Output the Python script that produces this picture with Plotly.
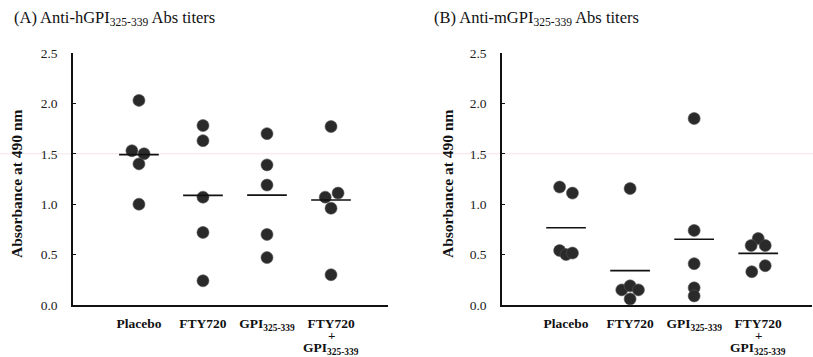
import plotly.graph_objects as go
import numpy as np

# ---------------- data ----------------
groups = ["Placebo", "FTY720", "GPI<sub>325-339</sub>", "FTY720"]
group_pos = [1, 2, 3, 4]

# Panel A: Anti-hGPI325-339 Abs titers
a_placebo = [2.03, 1.53, 1.50, 1.40, 1.00]
a_fty = [1.78, 1.63, 1.07, 0.72, 0.24]
a_gpi = [1.70, 1.39, 1.19, 0.70, 0.47]
a_combo = [1.77, 1.11, 1.07, 0.96, 0.30]
a_jitter = [[0, -0.11, 0.08, 0, 0],
            [0, 0, 0, 0, 0],
            [0, 0, 0, 0, 0],
            [0, 0.11, -0.09, 0, 0]]

# Panel B: Anti-mGPI325-339 Abs titers
b_placebo = [1.17, 1.11, 0.54, 0.50, 0.515]
b_fty = [1.155, 0.15, 0.19, 0.15, 0.06]
b_gpi = [1.85, 0.74, 0.41, 0.17, 0.09]
b_combo = [0.66, 0.59, 0.59, 0.33, 0.39]
b_jitter = [[-0.10, 0.10, -0.10, 0, 0.10],
            [0, -0.13, 0, 0.13, 0],
            [0, 0, 0, 0, 0],
            [0, -0.11, 0.11, -0.10, 0.11]]

y_ticks = [0.0, 0.5, 1.0, 1.5, 2.0, 2.5]

# ---------------- style ----------------
FONT = "Liberation Serif"
DOT = "#2a2a2a"
W, H = 813, 357
half = 0.31

fig = go.Figure()

def add_panel(series, jitter, xa, ya):
    for pos, vals, jit in zip(group_pos, series, jitter):
        fig.add_trace(go.Scatter(
            x=[pos + j for j in jit], y=vals, mode="markers",
            marker=dict(size=12, color=DOT, line=dict(width=0.6, color="#555")),
            xaxis=xa, yaxis=ya, showlegend=False, hoverinfo="y"))
        m = float(np.mean(vals))
        fig.add_trace(go.Scatter(
            x=[pos - half, pos + half], y=[m, m], mode="lines",
            line=dict(color="#111", width=1.6),
            xaxis=xa, yaxis=ya, showlegend=False, hoverinfo="skip"))

add_panel([a_placebo, a_fty, a_gpi, a_combo], a_jitter, "x", "y")
add_panel([b_placebo, b_fty, b_gpi, b_combo], b_jitter, "x2", "y2")

xcommon = dict(showline=True, linecolor="#111", linewidth=1.5, ticks="",
               showgrid=False, zeroline=False, tickvals=group_pos, ticktext=groups,
               tickfont=dict(family=FONT, size=13.5, color="#111", weight="bold"),
               ticklabelstandoff=5, fixedrange=True)
ycommon = dict(showline=True, linecolor="#111", linewidth=1.5, ticks="inside",
               ticklen=3, tickcolor="#111", showgrid=False, zeroline=False,
               range=[0, 2.5], tickvals=y_ticks,
               ticktext=[f"{v:.1f}" for v in y_ticks],
               tickfont=dict(family=FONT, size=13.5, color="#222"),
               ticklabelstandoff=11, fixedrange=True)

fig.update_layout(
    width=W, height=H,
    margin=dict(l=0, r=0, t=53, b=52),
    paper_bgcolor="white", plot_bgcolor="white",
    xaxis=dict(xcommon, domain=[73 / W, 388 / W], range=[-0.03, 4.89], anchor="y"),
    yaxis=dict(ycommon, anchor="x"),
    xaxis2=dict(xcommon, domain=[502 / W, 812 / W], range=[0.0, 4.84], anchor="y2"),
    yaxis2=dict(ycommon, anchor="x2"),
)

ann = []
# panel titles
ann.append(dict(text="(A) Anti-hGPI<sub>325-339</sub> Abs titers", xref="paper", yref="paper",
                x=12 / W, y=1 + 35 / 252, xanchor="left", yanchor="middle", showarrow=False,
                font=dict(family=FONT, size=16.5, color="#111")))
ann.append(dict(text="(B) Anti-mGPI<sub>325-339</sub> Abs titers", xref="paper", yref="paper",
                x=432 / W, y=1 + 35 / 252, xanchor="left", yanchor="middle", showarrow=False,
                font=dict(family=FONT, size=16.5, color="#111")))
# y titles
for xpix in (16, 447):
    ann.append(dict(text="Absorbance at 490 nm", xref="paper", yref="paper",
                    x=xpix / W, y=0.48, xanchor="center", yanchor="middle", textangle=-90,
                    showarrow=False, font=dict(family=FONT, size=15.5, color="#111", weight="bold")))
# extra lines of the fourth category label
for xa, ya in (("x", "y"), ("x2", "y2")):
    ann.append(dict(text="+", xref=xa, yref=ya, x=group_pos[3], y=0, yanchor="middle",
                    yshift=-30, showarrow=False,
                    font=dict(family=FONT, size=13, color="#111", weight="bold")))
    ann.append(dict(text="GPI<sub>325-339</sub>", xref=xa, yref=ya, x=group_pos[3], y=0,
                    yanchor="middle", yshift=-43, showarrow=False,
                    font=dict(family=FONT, size=13.5, color="#111", weight="bold")))
fig.update_layout(annotations=ann)

# faint scan line artifact across the page at 1.5
fig.add_shape(type="line", xref="paper", yref="y", x0=0, x1=1, y0=1.5, y1=1.5,
              line=dict(color="rgba(235,190,205,0.45)", width=1), layer="below")

fig.write_html("out.html")
